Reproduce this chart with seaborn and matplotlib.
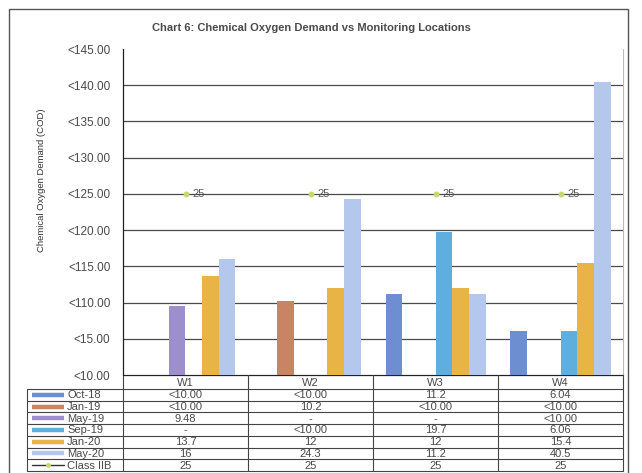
import numpy as np
import pandas as pd
import matplotlib
matplotlib.use("Agg")
import matplotlib.pyplot as plt
from matplotlib.ticker import FuncFormatter
from matplotlib.patches import Rectangle
import seaborn as sns

# ---- data ----
locations = ["W1", "W2", "W3", "W4"]
series = ["Oct-18", "Jan-19", "May-19", "Sep-19", "Jan-20", "May-20"]
oct18 = ["<10.00", "<10.00", "11.2", "6.04"]
jan19 = ["<10.00", "10.2", "<10.00", "<10.00"]
may19 = ["9.48", "-", "-", "<10.00"]
sep19 = ["-", "<10.00", "19.7", "6.06"]
jan20 = ["13.7", "12", "12", "15.4"]
may20 = ["16", "24.3", "11.2", "40.5"]
class_iib = [25, 25, 25, 25]
y_ticks = [0, 5, 10, 15, 20, 25, 30, 35, 40, 45]

table_rows = [oct18, jan19, may19, sep19, jan20, may20]
colors = ["#6d8fd1", "#c98466", "#9d8fcc", "#5eaee0", "#e8b445", "#b4c7ec"]
limit_color = "#c9d86a"
text_color = "#4a4a4a"


def to_value(s):
    """Censored ('<x') and missing ('-') results are not plotted."""
    if s.startswith("<") or s.strip() == "-":
        return np.nan
    return float(s)


records = []
for name, row in zip(series, table_rows):
    for loc, s in zip(locations, row):
        records.append({"location": loc, "series": name, "value": to_value(s)})
df = pd.DataFrame(records)

# ---- figure ----
sns.set_style("white")
plt.rcParams["font.family"] = ["Liberation Sans", "DejaVu Sans"]

W, H = 642, 473
fig = plt.figure(figsize=(W / 100, H / 100), dpi=100)

ax_left, ax_right, ax_top, ax_bottom = 123, 623, 49, 375
ax = fig.add_axes([ax_left / W, 1 - ax_bottom / H,
                   (ax_right - ax_left) / W, (ax_bottom - ax_top) / H])

sns.barplot(data=df, x="location", y="value", hue="series",
            order=locations, hue_order=series, palette=colors,
            width=0.8, linewidth=0, errorbar=None, legend=False,
            saturation=1, ax=ax)

# Class IIB guideline value shown as markers with labels
xs = np.arange(len(locations))
ax.plot(xs, class_iib, ls="none", marker="o", ms=3.2, color=limit_color,
        zorder=5)
for x, v in zip(xs, class_iib):
    ax.annotate(f"{v:g}", (x, v), xytext=(5, 0), textcoords="offset points",
                ha="left", va="center", fontsize=8, color="#5a5a5a",
                zorder=6)

ax.set_xlim(-0.5, len(locations) - 0.5)
ax.set_ylim(y_ticks[0], y_ticks[-1])
ax.set_yticks(y_ticks)
ax.yaxis.set_major_formatter(FuncFormatter(lambda v, p: "<1" + f"{v:.2f}"))
ax.set_xticks([])
ax.set_xlabel("")
ax.set_ylabel("")
ax.tick_params(axis="y", direction="out", length=4, width=0.8,
               colors="#222222", labelcolor=text_color, labelsize=8.5, pad=5)
ax.yaxis.grid(True, color="#4a4a4a", lw=0.9)
ax.set_axisbelow(True)
ax.get_ygridlines()[-1].set_visible(False)
for side in ["top", "right", "bottom"]:
    ax.spines[side].set_visible(False)
ax.spines["left"].set_color("#222222")
ax.spines["left"].set_linewidth(0.9)

# ---- overlay in pixel coordinates: frame, title, axis title, data table ----
ov = fig.add_axes([0, 0, 1, 1], zorder=-1)
ov.set_xlim(0, W)
ov.set_ylim(H, 0)
ov.axis("off")

ov.add_patch(Rectangle((9, 9), 619, 470, fill=False, ec="#555555", lw=1))
ov.plot([ax_right, ax_right], [ax_top, ax_bottom], color="#bbbbbb", lw=0.8)

fig.text(311 / W, 1 - 28 / H,
         "Chart 6: Chemical Oxygen Demand vs Monitoring Locations",
         ha="center", va="center", fontsize=8, weight="bold", color="#4a4a4a")
fig.text(42 / W, 1 - 180 / H, "Chemical Oxygen Demand (COD)", rotation=90,
         ha="center", va="center", fontsize=6.8, color="#333333",
         family=["Liberation Sans Narrow", "Liberation Sans", "DejaVu Sans"])

cat_w = (ax_right - ax_left) / len(locations)
col_edges = [ax_left + i * cat_w for i in range(len(locations) + 1)]
label_left = 27
header_bottom = 389
row_h = 11.7
n_rows = len(series) + 1
row_edges = [header_bottom + k * row_h for k in range(n_rows + 1)]
line_kw = dict(color="#444444", lw=0.8)
table_fs = 8

ov.plot([ax_left, ax_right], [ax_bottom, ax_bottom], color="#222222", lw=0.9)
for y in row_edges:
    ov.plot([label_left, ax_right], [y, y], **line_kw)
ov.plot([label_left, label_left], [header_bottom, row_edges[-1]], **line_kw)
for x in col_edges:
    ov.plot([x, x], [ax_bottom, row_edges[-1]], **line_kw)

# header
for i, loc in enumerate(locations):
    ov.text((col_edges[i] + col_edges[i + 1]) / 2, (ax_bottom + header_bottom) / 2 + 0.5,
            loc, ha="center", va="center", fontsize=table_fs, color=text_color)

row_labels = series + ["Class IIB"]
row_values = table_rows + [[f"{v:g}" for v in class_iib]]
for r, (lab, vals) in enumerate(zip(row_labels, row_values)):
    yc = (row_edges[r] + row_edges[r + 1]) / 2
    if r < len(series):
        ov.plot([32, 64], [yc, yc], color=colors[r], lw=3.2, solid_capstyle="butt")
    else:
        ov.plot([32, 64], [yc, yc], color="#333333", lw=1)
        ov.plot([48], [yc], marker="o", ms=2.5, color=limit_color)
    ov.text(67, yc + 0.5, lab, ha="left", va="center", fontsize=table_fs,
            color=text_color)
    for i, s in enumerate(vals):
        ov.text((col_edges[i] + col_edges[i + 1]) / 2, yc + 0.5, s,
                ha="center", va="center", fontsize=table_fs, color=text_color)

fig.savefig("out.png", dpi=100)
